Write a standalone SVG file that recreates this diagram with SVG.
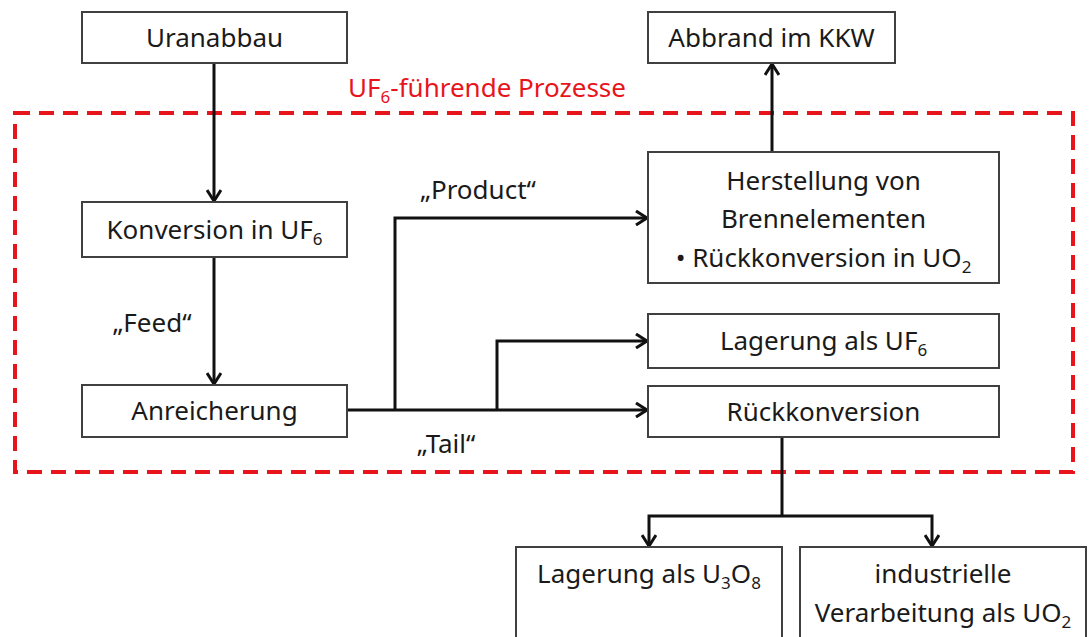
<svg xmlns="http://www.w3.org/2000/svg" width="1092" height="637" viewBox="0 0 1092 637">
  <style>
    .box { fill: #ffffff; stroke: #404040; stroke-width: 2; }
    .lbl { font-family: "Noto Sans", "Liberation Sans", sans-serif; font-size: 26px; fill: #1a1a1a; text-anchor: middle; }
    .sub { font-size: 17px; }
    .wire { fill: none; stroke: #111111; stroke-width: 3; }
    .zone { fill: none; stroke: #e8141c; stroke-width: 4; stroke-dasharray: 15 9; }
    .zonelbl { font-family: "Noto Sans", "Liberation Sans", sans-serif; font-size: 26px; fill: #e8141c; text-anchor: middle; }
  </style>
  <defs>
    <marker id="arrow" markerUnits="userSpaceOnUse" markerWidth="14" markerHeight="16" refX="12" refY="8" orient="auto" viewBox="0 0 14 16">
      <path d="M1,1 L12,8 L1,15" fill="none" stroke="#111111" stroke-width="3"/>
    </marker>
  </defs>
  <rect width="1092" height="637" fill="#ffffff"/>

  <!-- process boundary for UF6 handling -->
  <g id="uf6-zone">
    <rect class="zone" x="15" y="113" width="1058" height="359"/>
    <text class="zonelbl" x="487" y="97">UF<tspan class="sub" dy="6">6</tspan><tspan dy="-6">-führende Prozesse</tspan></text>
  </g>

  <!-- connectors -->
  <g id="connectors">
    <line class="wire" x1="214" y1="63" x2="214" y2="201" marker-end="url(#arrow)"/>
    <line class="wire" x1="214" y1="257" x2="214" y2="384" marker-end="url(#arrow)"/>
    <line class="wire" x1="347" y1="410" x2="647" y2="410" marker-end="url(#arrow)"/>
    <polyline class="wire" points="395,410 395,218 647,218" marker-end="url(#arrow)"/>
    <polyline class="wire" points="497,410 497,341 647,341" marker-end="url(#arrow)"/>
    <line class="wire" x1="772" y1="152" x2="772" y2="64" marker-end="url(#arrow)"/>
    <line class="wire" x1="782" y1="437" x2="782" y2="516"/>
    <polyline class="wire" points="782,516 649,516 649,546" marker-end="url(#arrow)"/>
    <polyline class="wire" points="782,516 932,516 932,546" marker-end="url(#arrow)"/>
    <text class="lbl" x="152" y="332">„Feed“</text>
    <text class="lbl" x="478" y="199">„Product“</text>
    <text class="lbl" x="446" y="453">„Tail“</text>
  </g>

  <g id="uranabbau">
    <rect class="box" x="82" y="12" width="265" height="51"/>
    <text class="lbl" x="214.5" y="47">Uranabbau</text>
  </g>

  <g id="konversion">
    <rect class="box" x="82" y="202" width="265" height="55"/>
    <text class="lbl" x="214.5" y="239">Konversion in UF<tspan class="sub" dy="6">6</tspan></text>
  </g>

  <g id="anreicherung">
    <rect class="box" x="82" y="385" width="265" height="52"/>
    <text class="lbl" x="214.5" y="420">Anreicherung</text>
  </g>

  <g id="abbrand">
    <rect class="box" x="648" y="12" width="247" height="51"/>
    <text class="lbl" x="771.5" y="47">Abbrand im KKW</text>
  </g>

  <g id="herstellung">
    <rect class="box" x="648" y="152" width="351" height="131"/>
    <text class="lbl" x="823.5" y="190">Herstellung von</text>
    <text class="lbl" x="823.5" y="228">Brennelementen</text>
    <text class="lbl" x="823.5" y="267">• Rückkonversion in UO<tspan class="sub" dy="6">2</tspan></text>
  </g>

  <g id="lagerung-uf6">
    <rect class="box" x="648" y="314" width="351" height="54"/>
    <text class="lbl" x="823.5" y="350">Lagerung als UF<tspan class="sub" dy="6">6</tspan></text>
  </g>

  <g id="rueckkonversion">
    <rect class="box" x="648" y="386" width="351" height="51"/>
    <text class="lbl" x="823.5" y="421">Rückkonversion</text>
  </g>

  <g id="lagerung-u3o8">
    <rect class="box" x="516" y="547" width="266" height="110"/>
    <text class="lbl" x="649" y="583">Lagerung als U<tspan class="sub" dy="6">3</tspan><tspan dy="-6">O</tspan><tspan class="sub" dy="6">8</tspan></text>
  </g>

  <g id="industrielle-verarbeitung">
    <rect class="box" x="800" y="547" width="286" height="110"/>
    <text class="lbl" x="943" y="583">industrielle</text>
    <text class="lbl" x="943" y="622">Verarbeitung als UO<tspan class="sub" dy="6">2</tspan></text>
  </g>
</svg>
